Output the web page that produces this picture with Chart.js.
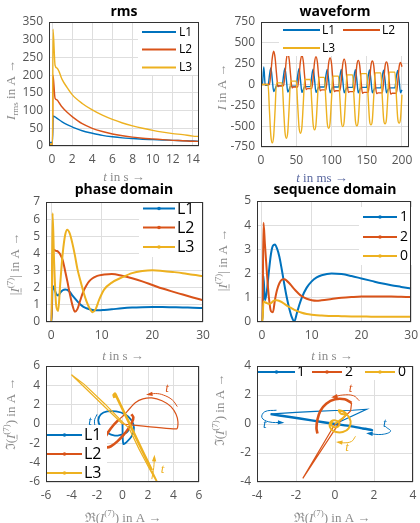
<!DOCTYPE html>
<html>
<head>
<meta charset="utf-8">
<script src="https://cdn.jsdelivr.net/npm/chart.js@4.4.1/dist/chart.umd.min.js"></script>
<style>
  html, body { margin: 0; padding: 0; background: #fff; }
  #wrap { position: relative; width: 420px; height: 523px; overflow: hidden; }
  #wrap canvas { position: absolute; left: 0; top: 0; }
</style>
</head>
<body>
<div id="wrap">
  <canvas id="rms" width="420" height="523"></canvas>
  <canvas id="wave" width="420" height="523"></canvas>
  <canvas id="phase" width="420" height="523"></canvas>
  <canvas id="seq" width="420" height="523"></canvas>
  <canvas id="phaseCx" width="420" height="523"></canvas>
  <canvas id="seqCx" width="420" height="523"></canvas>
</div>
<script>
// ── Data ──────────────────────────────────────────────────────────────────
// rms (t in s)
const rmsTime = [-0.3, 0.05, 0.1, 0.3, 0.5, 0.7, 1, 1.5, 2, 3, 4, 5, 6, 7, 8, 9, 10, 11, 12, 13, 14, 14.6];
const rmsL1 = [10, 10, 85, 82, 78, 74, 68, 60, 54, 43, 36, 30, 26, 23, 21, 19, 18, 17, 16, 15, 14, 13];
const rmsL2 = [5, 5, 200, 135, 130, 122, 110, 95, 83, 63, 50, 41, 34, 29, 25, 22, 20, 18, 16, 15, 13.5, 13];
const rmsL3 = [5, 5, 330, 228, 220, 210, 188, 165, 145, 120, 102, 87, 75, 65, 57, 50, 44, 39, 35, 32, 28, 27];
const rmsXTicks = [0, 2, 4, 6, 8, 10, 12, 14];
const rmsYTicks = [0, 50, 100, 150, 200, 250, 300, 350];

// waveform (t in ms)
const wfTime = [
  0, 2, 4, 6, 8, 10, 12, 14, 16, 18,
  20, 22, 24, 26, 28, 30, 32, 34, 36, 38,
  40, 42, 44, 46, 48, 50, 52, 54, 56, 58,
  60, 62, 64, 66, 68, 70, 72, 74, 76, 78,
  80, 82, 84, 86, 88, 90, 92, 94, 96, 98,
  100, 102, 104, 106, 108, 110, 112, 114, 116, 118,
  120, 122, 124, 126, 128, 130, 132, 134, 136, 138,
  140, 142, 144, 146, 148, 150, 152, 154, 156, 158,
  160, 162, 164, 166, 168, 170, 172, 174, 176, 178,
  180, 182, 184, 186, 188, 190, 192, 194, 196, 198,
  200];
const wfL1 = [
  0, 0, 210, -10, -10, -10, 110, 200, 60, -85,
  -55, -15, -15, -15, -15, -15, 107, 195, 58, -90,
  -60, -20, -20, -20, -20, -20, 104, 190, 57, -95,
  -60, -25, -25, -25, -25, -25, 102, 185, 55, -95,
  -65, -30, -30, -30, -30, -30, 100, 182, 55, -100,
  -65, -30, -30, -30, -30, -30, 99, 180, 54, -100,
  -65, -35, -35, -35, -35, -35, 98, 178, 53, -100,
  -65, -35, -35, -35, -35, -35, 96, 175, 52, -100,
  -65, -40, -40, -40, -40, -40, 95, 172, 52, -100,
  -65, -40, -40, -40, -40, -40, 94, 170, 51, -100,
  -65];
const wfL2 = [
  0, 0, 0, 0, 0, 0, 0, 140, 320, 400,
  320, 130, -25, -15, -15, -15, -15, 120, 300, 375,
  300, 112, -40, -30, -30, -30, -30, 103, 280, 350,
  280, 90, -60, -50, -50, -50, -50, 85, 268, 335,
  268, 75, -75, -65, -65, -65, -65, 70, 256, 320,
  256, 63, -85, -75, -75, -75, -75, 58, 244, 305,
  244, 52, -95, -85, -85, -85, -85, 46, 232, 290,
  232, 40, -105, -95, -95, -95, -95, 37, 226, 282,
  226, 34, -110, -100, -100, -100, -100, 30, 218, 272,
  218, 27, -115, -105, -105, -105, -105, 25, 212, 265,
  212];
const wfL3 = [
  0, 0, 0, 0, 0, 0, -315, -616, -700, -616,
  -304, 20, 20, 20, 20, 20, -279, -568, -645, -568,
  -268, 40, 40, 40, 40, 40, -241, -515, -585, -515,
  -230, 60, 60, 60, 60, 60, -212, -480, -545, -480,
  -198, 85, 85, 85, 85, 85, -189, -462, -525, -462,
  -181, 100, 100, 100, 100, 100, -172, -444, -505, -444,
  -164, 115, 115, 115, 115, 115, -160, -436, -495, -436,
  -151, 130, 130, 130, 130, 130, -146, -427, -485, -427,
  -141, 140, 140, 140, 140, 140, -135, -415, -472, -415,
  -131, 148, 148, 148, 148, 148, -127, -407, -463, -407,
  -123];
const wfXTicks = [0, 50, 100, 150, 200];
const wfYTicks = [-750, -500, -250, 0, 250, 500, 750];

// phase domain (t in s)
const phTime = [-0.8, 0.1, 0.3, 0.6, 1.0, 1.4, 1.8, 2.3, 2.8, 3.2, 3.7, 4.2, 4.7, 5.2, 5.8, 6.4, 7.0, 7.6, 8.2, 8.8,
  9.5, 10.5, 12, 14, 16, 18, 20, 22, 24, 26, 28, 30];
const phL1 = [0, 0, 2.1, 1.95, 1.65, 1.55, 1.7, 1.85, 1.9, 1.88, 1.75, 1.55, 1.38, 1.2, 1.02, 0.88, 0.8, 0.74, 0.7, 0.68,
  0.68, 0.7, 0.74, 0.8, 0.84, 0.86, 0.87, 0.87, 0.86, 0.85, 0.83, 0.82];
const phL2 = [0, 0, 4.25, 4.2, 4.15, 4.1, 3.95, 3.6, 2.95, 2.4, 1.65, 1.0, 0.6, 0.75, 1.3, 1.8, 2.15, 2.4, 2.55, 2.65,
  2.72, 2.77, 2.8, 2.7, 2.55, 2.37, 2.16, 1.95, 1.77, 1.6, 1.43, 1.27];
const phL3 = [0, 0, 6.35, 3.5, 1.0, 0.65, 2.2, 4.0, 5.1, 5.38, 5.15, 4.6, 3.9, 3.1, 2.4, 1.75, 1.2, 0.8, 0.57, 0.75,
  1.3, 1.9, 2.3, 2.6, 2.85, 2.97, 3.02, 2.98, 2.92, 2.85, 2.75, 2.68];
const phXTicks = [0, 10, 20, 30];
const phYTicks = [0, 1, 2, 3, 4, 5, 6, 7];

// sequence domain (t in s)
const sqTime = [-0.8, 0.1, 0.3, 0.6, 1.0, 1.4, 1.8, 2.2, 2.6, 3.0, 3.5, 4.0, 4.5, 5.0, 5.5, 6.0, 6.5, 7.0, 7.5, 8.0,
  9, 10, 11, 12, 14, 16, 18, 20, 22, 24, 26, 28, 30];
const sqPos = [0, 0, 1.9, 0.9, 1.3, 2.1, 2.8, 3.15, 3.2, 3.05, 2.7, 2.15, 1.55, 1.0, 0.55, 0.2, 0.02, 0.35, 0.7, 1.0,
  1.42, 1.68, 1.84, 1.93, 2.0, 1.98, 1.9, 1.8, 1.7, 1.6, 1.52, 1.45, 1.38];
const sqNeg = [0, 0, 4.1, 3.2, 2.0, 1.0, 0.45, 0.4, 0.9, 1.3, 1.6, 1.75, 1.77, 1.7, 1.6, 1.48, 1.36, 1.25, 1.15, 1.07,
  0.96, 0.9, 0.88, 0.9, 0.95, 1.0, 1.03, 1.05, 1.05, 1.05, 1.05, 1.04, 1.03];
const sqZero = [0, 0, 0.85, 0.82, 0.78, 0.75, 0.78, 0.85, 0.9, 0.9, 0.87, 0.82, 0.75, 0.68, 0.62, 0.56, 0.5, 0.46, 0.42, 0.38,
  0.33, 0.3, 0.28, 0.27, 0.25, 0.24, 0.23, 0.23, 0.22, 0.22, 0.22, 0.22, 0.22];
const sqYTicks = [0, 1, 2, 3, 4, 5];

// complex plane, phase domain: [Re, Im]
const cxL1 = [[0, 0], [0.06, -2.05], [0.3, -1.9], [0.75, -1.2], [0.9, -0.4], [0.7, 0.4], [0.2, 1.0], [-0.5, 1.3],
  [-1.2, 1.3], [-1.7, 1.0], [-1.9, 0.4], [-1.7, -0.3], [-1.2, -0.9], [-0.6, -1.2], [-0.1, -1.1], [0.3, -0.9],
  [0.5, -0.6], [0.55, -0.45]];
const cxL2Fast = [[0, 0], [4.25, -0.5], [4.35, 0.2], [4.2, 1.0], [3.8, 1.8], [3.1, 2.4], [2.3, 2.7], [1.6, 2.6],
  [1.0, 2.2], [0.5, 1.5], [0.1, 0.9], [-0.3, 0.45]];
const cxL2Slow = [[-0.3, 0.45], [-0.7, -0.1], [-1.1, -0.8], [-1.4, -1.5], [-1.5, -2.1], [-1.3, -2.4], [-0.9, -2.3],
  [-0.4, -1.8], [0.1, -1.1], [0.5, -0.4], [0.75, 0.2], [0.85, 0.7], [0.7, 1.0]];
const cxL3Fast = [[0, 0], [-4.0, 5.1], [-3.0, 4.1], [-1.4, 2.1], [0.15, 0.0], [0.5, -0.4], [1.3, -2.6], [2.1, -4.6],
  [2.9, -6.5], [2.6, -5.6], [2.3, -4.8]];
const cxL3Slow = [[2.3, -4.8], [1.7, -3.15], [1.1, -1.5], [0.57, -0.02], [0.0, 1.55], [-0.4, 2.65], [-0.58, 3.14],
  [-0.7, 3.0], [-0.62, 2.7]];
const cxArrowL1 = [[-2.0, 1.0], [-2.2, 0.3], [-2.05, -0.5], [-1.7, -1.1]];
const cxArrowL2 = [[4.3, 1.8], [3.9, 2.5], [3.2, 3.0], [2.6, 3.15], [2.0, 3.05]];
const cxArrowL3 = [[2.3, -5.7], [2.45, -4.5], [2.5, -3.4]];
const cxTicks = [-6, -4, -2, 0, 2, 4, 6];

// complex plane, sequence domain: [Re, Im]
const csPosFast = [[0, 0], [1.62, 1.02], [0.9, 0.95], [0.0, 0.93], [-1.0, 0.87], [-2.0, 0.8], [-3.0, 0.72], [-3.3, 0.68]];
const csPosSlow = [[-3.3, 0.68], [-2.4, 0.5], [-1.2, 0.25], [0, 0], [0.8, -0.15], [1.4, -0.3], [1.9, -0.42],
  [1.75, -0.38], [1.55, -0.33], [1.38, -0.3]];
const csNegFast = [[0, 0], [-1.65, -3.75], [0.3, 0.25], [0.8, 0.9], [0.85, 1.45]];
const csNegSlow = [[0.85, 1.45], [0.5, 1.7], [0.0, 1.7], [-0.45, 1.4], [-0.75, 0.9], [-0.9, 0.3], [-0.95, -0.3],
  [-0.9, -0.65]];
const csZero = [[0, 0], [0.55, 0.62], [0.3, 0.72], [0.2, 0.95], [0.55, 0.75], [0.8, 0.2], [0.7, -0.3], [0.4, -0.55],
  [0.05, -0.55], [-0.2, -0.35], [-0.28, -0.05], [-0.18, 0.2], [0.02, 0.25], [0.2, 0.12], [0.22, -0.08],
  [0.08, -0.22], [-0.1, -0.18], [-0.2, 0.0], [-0.12, 0.18]];
const csArrowPosA = [[-3.0, 0.95], [-3.6, 0.85], [-3.75, 0.45], [-3.4, 0.15], [-2.7, 0.1]];
const csArrowPosB = [[2.6, -0.2], [2.85, -0.5], [2.4, -0.72], [1.7, -0.65]];
const csArrowNeg = [[1.25, 1.6], [0.95, 1.95], [0.4, 2.0], [-0.1, 1.85]];
const csArrowZero = [[1.05, -0.85], [0.85, -1.2], [0.45, -1.3], [0.15, -1.25]];
const csTicks = [-4, -2, 0, 2, 4];

// ── Style ─────────────────────────────────────────────────────────────────
const BLUE = '#0072BD', ORANGE = '#D95319', YELLOW = '#EDB120';
const GRID = '#dedede', TICK = '#555', LABEL = '#8c8c8c';
const SERIF = '"Liberation Serif", "DejaVu Serif", serif';
const SANS = '"Open Sans", "DejaVu Sans", sans-serif';
Chart.defaults.font.family = SANS;

// axis label pieces
const tS = [{ t: 't', it: 1 }, { t: ' in s →' }];
const tMs = [{ t: 't', it: 1 }, { t: ' in ms →' }];
const iRms = [{ t: 'I', it: 1 }, { t: 'rms', sub: 1 }, { t: ' in A →' }];
const iA = [{ t: 'I', it: 1 }, { t: ' in A →' }];
const absI7 = [{ t: '|' }, { t: 'I', it: 1, ul: 1 }, { t: '(7)', sup: 1 }, { t: '| in A →' }];
const imI7 = [{ t: 'ℑ(' }, { t: 'I', it: 1, ul: 1 }, { t: '(7)', sup: 1 }, { t: ') in A →' }];
const reI7 = [{ t: 'ℜ(' }, { t: 'I', it: 1, ul: 1 }, { t: '(7)', sup: 1 }, { t: ') in A →' }];

// ── Helpers ───────────────────────────────────────────────────────────────
function lineSet(xs, ys, color, width, order) {
  return {
    data: xs.map((x, i) => ({ x, y: ys[i] })), borderColor: color, backgroundColor: color,
    borderWidth: width, pointRadius: 0, fill: false, cubicInterpolationMode: 'monotone', order,
  };
}

function pathSet(ps, color, width, order, tension) {
  return {
    data: ps.map(([x, y]) => ({ x, y })), borderColor: color, backgroundColor: color,
    borderWidth: width, pointRadius: 0, showLine: true, fill: false, tension: tension || 0, order,
  };
}

function arrowSet(ps, color) {
  return Object.assign(pathSet(ps, color, 1, 5, 0.4), { arrow: true });
}

/** draw a label made of pieces (italic, sub/superscript, underline), centred on (cx, cy) */
function drawRich(ctx, parts, cx, cy, size, color, rotate) {
  const fontOf = p => `${p.it ? 'italic ' : ''}${(p.sub || p.sup) ? Math.round(size * 0.7) : size}px ${SERIF}`;
  const widths = parts.map(p => { ctx.font = fontOf(p); return ctx.measureText(p.t).width; });
  const total = widths.reduce((s, w) => s + w, 0);
  ctx.save();
  ctx.translate(cx, cy);
  if (rotate) ctx.rotate(-Math.PI / 2);
  ctx.fillStyle = color;
  ctx.strokeStyle = color;
  ctx.textBaseline = 'alphabetic';
  ctx.textAlign = 'left';
  let x = -total / 2;
  const base = size * 0.35;
  parts.forEach((p, i) => {
    ctx.font = fontOf(p);
    const dy = p.sub ? size * 0.25 : p.sup ? -size * 0.42 : 0;
    ctx.fillText(p.t, x, base + dy);
    if (p.ul) {
      ctx.lineWidth = 0.8;
      ctx.beginPath();
      ctx.moveTo(x, base + 2.5);
      ctx.lineTo(x + widths[i], base + 2.5);
      ctx.stroke();
    }
    x += widths[i];
  });
  ctx.restore();
}

// per-canvas decorations: title, axis labels, legend, "t" notes
const DECO = {};

const panelDeco = {
  id: 'panelDeco',
  afterDraw(chart) {
    const o = DECO[chart.canvas.id];
    const { ctx, chartArea: a, scales: { x: sx, y: sy } } = chart;
    ctx.save();

    // arrowheads on annotation curves
    chart.data.datasets.forEach(ds => {
      if (!ds.arrow) return;
      const n = ds.data.length, p = ds.data[n - 2], q = ds.data[n - 1];
      const x1 = sx.getPixelForValue(p.x), y1 = sy.getPixelForValue(p.y);
      const x2 = sx.getPixelForValue(q.x), y2 = sy.getPixelForValue(q.y);
      const ang = Math.atan2(y2 - y1, x2 - x1);
      ctx.fillStyle = ds.borderColor;
      ctx.beginPath();
      ctx.moveTo(x2 + 2 * Math.cos(ang), y2 + 2 * Math.sin(ang));
      ctx.lineTo(x2 - 5 * Math.cos(ang - 0.45), y2 - 5 * Math.sin(ang - 0.45));
      ctx.lineTo(x2 - 5 * Math.cos(ang + 0.45), y2 - 5 * Math.sin(ang + 0.45));
      ctx.closePath();
      ctx.fill();
    });

    // "t" notes in data coordinates
    (o.notes || []).forEach(nt => {
      ctx.font = `italic 13px ${SERIF}`;
      ctx.fillStyle = nt.color;
      ctx.textAlign = 'center';
      ctx.textBaseline = 'middle';
      ctx.fillText('t', sx.getPixelForValue(nt.x), sy.getPixelForValue(nt.y));
    });

    // legend
    if (o.legend) {
      const lg = o.legend;
      ctx.fillStyle = '#fff';
      ctx.fillRect(lg.bg[0], lg.bg[1], lg.bg[2], lg.bg[3]);
      lg.items.forEach(it => {
        ctx.strokeStyle = it.color;
        ctx.lineWidth = 2;
        ctx.beginPath();
        ctx.moveTo(it.x1, it.y);
        ctx.lineTo(it.x2, it.y);
        ctx.stroke();
        if (lg.markers) {
          ctx.fillStyle = it.color;
          ctx.beginPath();
          ctx.arc((it.x1 + it.x2) / 2, it.y, 1.8, 0, Math.PI * 2);
          ctx.fill();
        }
        ctx.fillStyle = '#000';
        ctx.font = `${lg.size}px ${SANS}`;
        ctx.textAlign = 'left';
        ctx.textBaseline = 'middle';
        ctx.fillText(it.text, it.tx, it.y + 0.5);
      });
    }

    // axes box
    ctx.strokeStyle = '#333';
    ctx.lineWidth = 1;
    ctx.strokeRect(Math.round(a.left) + 0.5, Math.round(a.top) + 0.5,
      Math.round(a.width) - 1, Math.round(a.height) - 1);

    // title and axis labels
    if (o.title) {
      ctx.fillStyle = '#000';
      ctx.font = `bold 14px ${SANS}`;
      ctx.textAlign = 'center';
      ctx.textBaseline = 'middle';
      ctx.fillText(o.title.text, o.title.x, o.title.y);
    }
    drawRich(ctx, o.xLabel.parts, o.xLabel.x, o.xLabel.y, 13, o.xLabel.color || LABEL, false);
    drawRich(ctx, o.yLabel.parts, o.yLabel.x, o.yLabel.y, 13, LABEL, true);
    ctx.restore();
  },
};

function axis(ax, isX, size) {
  return {
    type: 'linear', min: ax.min, max: ax.max,
    afterBuildTicks: s => { s.ticks = ax.ticks.map(v => ({ value: v })); },
    afterFit: s => { if (isX) s.height = size; else s.width = size; },
    grid: { color: GRID, drawTicks: true, tickLength: 4, tickColor: 'rgba(0,0,0,0)' },
    border: { display: false },
    ticks: {
      padding: 2, color: TICK, font: { family: SANS, size: 12 }, maxRotation: 0, autoSkip: false,
      callback: v => String(v),
    },
  };
}

function panel(id, box, xAx, yAx, type, datasets, deco) {
  const px = box.l < 210 ? 0 : 210;
  DECO[id] = deco;
  return new Chart(document.getElementById(id), {
    type,
    data: { datasets },
    options: {
      responsive: false, animation: false, devicePixelRatio: 1,
      layout: { padding: { left: px, top: box.t, right: 420 - box.r, bottom: 523 - box.b - 20 } },
      plugins: { legend: { display: false }, tooltip: { enabled: false } },
      scales: { x: axis(xAx, true, 20), y: axis(yAx, false, box.l - px) },
    },
    plugins: [panelDeco],
  });
}

function legendRows(names, colors, x1, x2, tx, ys) {
  return names.map((text, i) => ({ text, color: colors[i], x1, x2, tx, y: ys[i] }));
}

// ── Panels ────────────────────────────────────────────────────────────────
panel('rms', { l: 49, t: 22, r: 199, b: 146 },
  { min: -0.3, max: 14.6, ticks: rmsXTicks }, { min: 0, max: 350, ticks: rmsYTicks }, 'line',
  [lineSet(rmsTime, rmsL1, BLUE, 1.4, 3), lineSet(rmsTime, rmsL2, ORANGE, 1.4, 2), lineSet(rmsTime, rmsL3, YELLOW, 1.4, 1)],
  {
    title: { text: 'rms', x: 124, y: 12 },
    xLabel: { parts: tS, x: 124, y: 176 },
    yLabel: { parts: iRms, x: 10, y: 90 },
    legend: {
      bg: [138, 23, 60, 52], size: 12,
      items: legendRows(['L1', 'L2', 'L3'], [BLUE, ORANGE, YELLOW], 142, 176, 179, [32, 49.5, 67.5]),
    },
  });

panel('wave', { l: 261, t: 22, r: 409, b: 147 },
  { min: 0, max: 210, ticks: wfXTicks }, { min: -750, max: 750, ticks: wfYTicks }, 'line',
  [lineSet(wfTime, wfL1, BLUE, 1.4, 3), lineSet(wfTime, wfL2, ORANGE, 1.4, 2), lineSet(wfTime, wfL3, YELLOW, 1.4, 1)],
  {
    title: { text: 'waveform', x: 335, y: 12 },
    xLabel: { parts: tMs, x: 322, y: 177, color: '#5a68a0' },
    yLabel: { parts: iA, x: 221, y: 87 },
    legend: {
      bg: [279, 23, 129, 33], size: 12,
      items: [
        { text: 'L1', color: BLUE, x1: 283, x2: 320, tx: 322, y: 30 },
        { text: 'L2', color: ORANGE, x1: 343, x2: 380, tx: 382, y: 30 },
        { text: 'L3', color: YELLOW, x1: 283, x2: 320, tx: 322, y: 48 },
      ],
    },
  });

panel('phase', { l: 46, t: 202, r: 203, b: 322 },
  { min: -1, max: 30, ticks: phXTicks }, { min: 0, max: 7, ticks: phYTicks }, 'line',
  [lineSet(phTime, phL1, BLUE, 2, 3), lineSet(phTime, phL2, ORANGE, 2, 2), lineSet(phTime, phL3, YELLOW, 2, 1)],
  {
    title: { text: 'phase domain', x: 124, y: 190 },
    xLabel: { parts: tS, x: 123, y: 355 },
    yLabel: { parts: absI7, x: 14, y: 264 },
    legend: {
      bg: [139, 203, 63, 54], size: 16, markers: true,
      items: legendRows(['L1', 'L2', 'L3'], [BLUE, ORANGE, YELLOW], 143, 175, 177, [208.5, 227.5, 247]),
    },
  });

panel('seq', { l: 257, t: 201, r: 413, b: 322 },
  { min: -1, max: 30, ticks: phXTicks }, { min: 0, max: 5, ticks: sqYTicks }, 'line',
  [lineSet(sqTime, sqPos, BLUE, 2, 3), lineSet(sqTime, sqNeg, ORANGE, 2, 2), lineSet(sqTime, sqZero, YELLOW, 2, 1)],
  {
    title: { text: 'sequence domain', x: 335, y: 190 },
    xLabel: { parts: tS, x: 332, y: 355 },
    yLabel: { parts: absI7, x: 222, y: 260 },
    legend: {
      bg: [359, 207, 53, 58], size: 14, markers: true,
      items: legendRows(['1', '2', '0'], [BLUE, ORANGE, YELLOW], 363, 397, 400, [217, 237, 256]),
    },
  });

panel('phaseCx', { l: 46, t: 366, r: 199, b: 482 },
  { min: -6, max: 6, ticks: cxTicks }, { min: -6, max: 6, ticks: cxTicks }, 'scatter',
  [
    pathSet(cxL1, BLUE, 1.8, 3, 0.3),
    pathSet(cxL2Fast, ORANGE, 1.2, 2, 0.2), pathSet(cxL2Slow, ORANGE, 2.6, 2, 0.3),
    pathSet(cxL3Fast, YELLOW, 1.2, 1, 0), pathSet(cxL3Slow, YELLOW, 2.6, 1, 0.2),
    arrowSet(cxArrowL1, BLUE), arrowSet(cxArrowL2, ORANGE), arrowSet(cxArrowL3, YELLOW),
  ],
  {
    xLabel: { parts: reI7, x: 123, y: 517 },
    yLabel: { parts: imI7, x: 10, y: 414 },
    notes: [
      { x: -2.55, y: 0.2, color: BLUE }, { x: 3.5, y: 3.7, color: ORANGE }, { x: 3.15, y: -4.7, color: YELLOW },
    ],
    legend: {
      bg: [47, 425, 60, 56], size: 16, markers: true,
      items: legendRows(['L1', 'L2', 'L3'], [BLUE, ORANGE, YELLOW], 47, 82, 84, [435, 454, 473]),
    },
  });

panel('seqCx', { l: 257, t: 366, r: 413, b: 482 },
  { min: -4, max: 4, ticks: csTicks }, { min: -4, max: 4, ticks: csTicks }, 'scatter',
  [
    pathSet(csPosFast, BLUE, 1.2, 3, 0), pathSet(csPosSlow, BLUE, 2.4, 3, 0.2),
    pathSet(csNegFast, ORANGE, 1.2, 2, 0), pathSet(csNegSlow, ORANGE, 2.6, 2, 0.3),
    pathSet(csZero, YELLOW, 2, 1, 0.35),
    arrowSet(csArrowPosA, BLUE), arrowSet(csArrowPosB, BLUE), arrowSet(csArrowNeg, ORANGE), arrowSet(csArrowZero, YELLOW),
  ],
  {
    xLabel: { parts: reI7, x: 332, y: 517 },
    yLabel: { parts: imI7, x: 219, y: 410 },
    notes: [
      { x: -3.6, y: -0.05, color: BLUE }, { x: 2.55, y: 0.05, color: BLUE },
      { x: 0.8, y: 2.45, color: ORANGE }, { x: 0.62, y: -1.6, color: YELLOW },
    ],
    legend: {
      bg: [258, 366, 154, 14], size: 14, markers: true,
      items: [
        { text: '1', color: BLUE, x1: 258, x2: 295, tx: 297, y: 372 },
        { text: '2', color: ORANGE, x1: 312, x2: 342, tx: 345, y: 372 },
        { text: '0', color: YELLOW, x1: 365, x2: 395, tx: 398, y: 372 },
      ],
    },
  });
</script>
</body>
</html>
